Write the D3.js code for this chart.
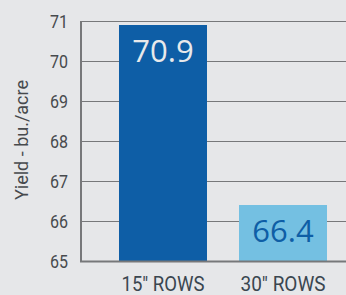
<!DOCTYPE html>
<html><head><meta charset="utf-8">
<script src="https://cdn.jsdelivr.net/npm/d3@7"></script>
<style>
html,body{margin:0;padding:0;background:#e6e7e9;}
svg{display:block;}
</style></head>
<body>
<script>
const categories = ['15" ROWS', '30" ROWS'];
const values = [70.9, 66.4];
const tickValues = [65, 66, 67, 68, 69, 70, 71];
const barColors = ["#0e5ea6", "#74c0e2"];
const labelColors = ["#e8e9eb", "#0e5ea6"];

const W = 346, H = 295;
const svg = d3.select("body").append("svg").attr("width", W).attr("height", H);
svg.append("rect").attr("width", W).attr("height", H).attr("fill", "#e6e7e9");

const y = d3.scaleLinear().domain([65, 71]).range([261, 21]);
const x = d3.scaleBand().domain(categories).range([103, 343]).paddingInner(0.2667).paddingOuter(0.1333);

const cond = "Roboto, 'Liberation Sans', sans-serif";

// gridlines
svg.append("g").selectAll("line").data(tickValues.filter(d => d > 65)).join("line")
  .attr("x1", 81).attr("x2", W).attr("y1", d => y(d) + 0.5).attr("y2", d => y(d) + 0.5)
  .attr("stroke", "#77787a").attr("stroke-width", 1.2);

// bars
svg.append("g").selectAll("rect").data(values).join("rect")
  .attr("x", (d, i) => x(categories[i]))
  .attr("width", x.bandwidth())
  .attr("y", d => y(d))
  .attr("height", d => y(65) - y(d))
  .attr("fill", (d, i) => barColors[i]);

// value labels
svg.append("g").selectAll("text").data(values).join("text")
  .attr("x", (d, i) => x(categories[i]) + x.bandwidth() / 2)
  .attr("y", d => y(d) + 37)
  .attr("text-anchor", "middle")
  .attr("font-family", "'Open Sans', sans-serif")
  .attr("font-size", 31)
  .attr("fill", (d, i) => labelColors[i])
  .text(d => d.toFixed(1));

// y axis
const yAxis = d3.axisLeft(y).tickValues(tickValues).tickSize(0).tickPadding(13).tickFormat(d3.format("d"));
const gy = svg.append("g").attr("transform", "translate(81,0)").call(yAxis);
gy.select(".domain").attr("stroke", "#77787a").attr("stroke-width", 2).attr("d", "M0,21V262");
gy.selectAll("text").attr("font-family", cond).attr("font-size", 19).attr("fill", "#474a4d")
  .attr("dy", "0.36em").attr("textLength", 18).attr("lengthAdjust", "spacingAndGlyphs");

// baseline
svg.append("line").attr("x1", 80).attr("x2", W).attr("y1", 261.5).attr("y2", 261.5)
  .attr("stroke", "#77787a").attr("stroke-width", 2);

// x axis labels
const xAxis = d3.axisBottom(x).tickSize(0).tickPadding(0);
const gx = svg.append("g").attr("transform", "translate(0,262)").call(xAxis);
gx.select(".domain").remove();
gx.selectAll("text").attr("font-family", cond).attr("font-size", 21).attr("fill", "#3a4650")
  .attr("y", 28.5).attr("dy", 0)
  .attr("textLength", (d, i) => [83, 85][i]).attr("lengthAdjust", "spacingAndGlyphs");

// y title
svg.append("text").attr("transform", "translate(28,140) rotate(-90)")
  .attr("text-anchor", "middle")
  .attr("font-family", cond).attr("font-size", 19).attr("fill", "#474a4d")
  .attr("textLength", 120).attr("lengthAdjust", "spacingAndGlyphs")
  .text("Yield - bu./acre");
</script>
</body></html>
